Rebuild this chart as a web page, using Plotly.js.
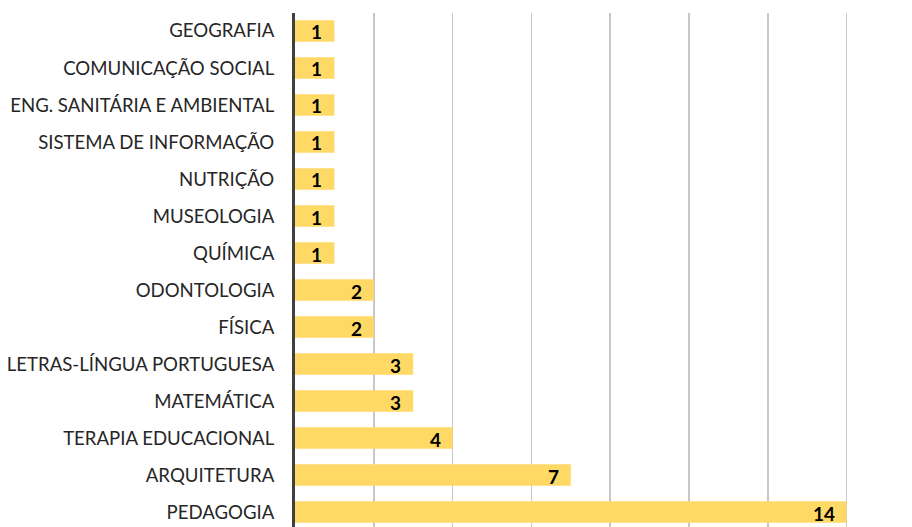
<!DOCTYPE html>
<html>
<head>
<meta charset="utf-8">
<script src="https://cdn.plot.ly/plotly-3.0.1.min.js"></script>
<style>html,body{margin:0;padding:0;background:#fff;}#chart{width:912px;height:527px;}</style>
</head>
<body>
<div id="chart"></div>
<script>
const categories = [
  "GEOGRAFIA", "COMUNICAÇÃO SOCIAL", "ENG. SANITÁRIA E AMBIENTAL", "SISTEMA DE INFORMAÇÃO",
  "NUTRIÇÃO", "MUSEOLOGIA", "QUÍMICA", "ODONTOLOGIA", "FÍSICA",
  "LETRAS-LÍNGUA PORTUGUESA", "MATEMÁTICA", "TERAPIA EDUCACIONAL", "ARQUITETURA", "PEDAGOGIA"
];
const values = [1, 1, 1, 1, 1, 1, 1, 2, 2, 3, 3, 4, 7, 14];
const valueLabels = values.map(String);

const fontFam = "Lato, 'Open Sans', sans-serif";

const annotations = categories.map((c, i) => ({
  x: values[i],
  y: c,
  xref: 'x',
  yref: 'y',
  text: valueLabels[i],
  showarrow: false,
  xanchor: 'right',
  yanchor: 'middle',
  xshift: -10,
  yshift: -1,
  font: {family: fontFam, size: 19, color: '#000000', weight: 'bold'}
}));

Plotly.newPlot('chart', [{
  type: 'bar',
  orientation: 'h',
  y: categories,
  x: values,
  marker: {color: '#FFD966'},
  hoverinfo: 'none'
}], {
  width: 912,
  height: 527,
  margin: {l: 295, r: 0, t: 13, b: 0, pad: 0},
  paper_bgcolor: '#ffffff',
  plot_bgcolor: '#ffffff',
  bargap: 0.42,
  showlegend: false,
  annotations: annotations,
  font: {family: fontFam, color: '#262626'},
  xaxis: {
    range: [0, 15.66],
    dtick: 2,
    tick0: 0,
    showgrid: true,
    gridcolor: '#c8c8c8',
    gridwidth: 1.5,
    zeroline: false,
    showticklabels: false,
    showline: false,
    fixedrange: true
  },
  yaxis: {
    type: 'category',
    range: [13.405, -0.486],
    showgrid: false,
    zeroline: false,
    showline: true,
    linecolor: '#404040',
    linewidth: 3,
    ticks: 'outside',
    ticklen: 14,
    tickcolor: 'rgba(0,0,0,0)',
    tickfont: {family: fontFam, size: 18.6, color: '#262626'},
    fixedrange: true
  }
}, {staticPlot: true});
</script>
</body>
</html>
